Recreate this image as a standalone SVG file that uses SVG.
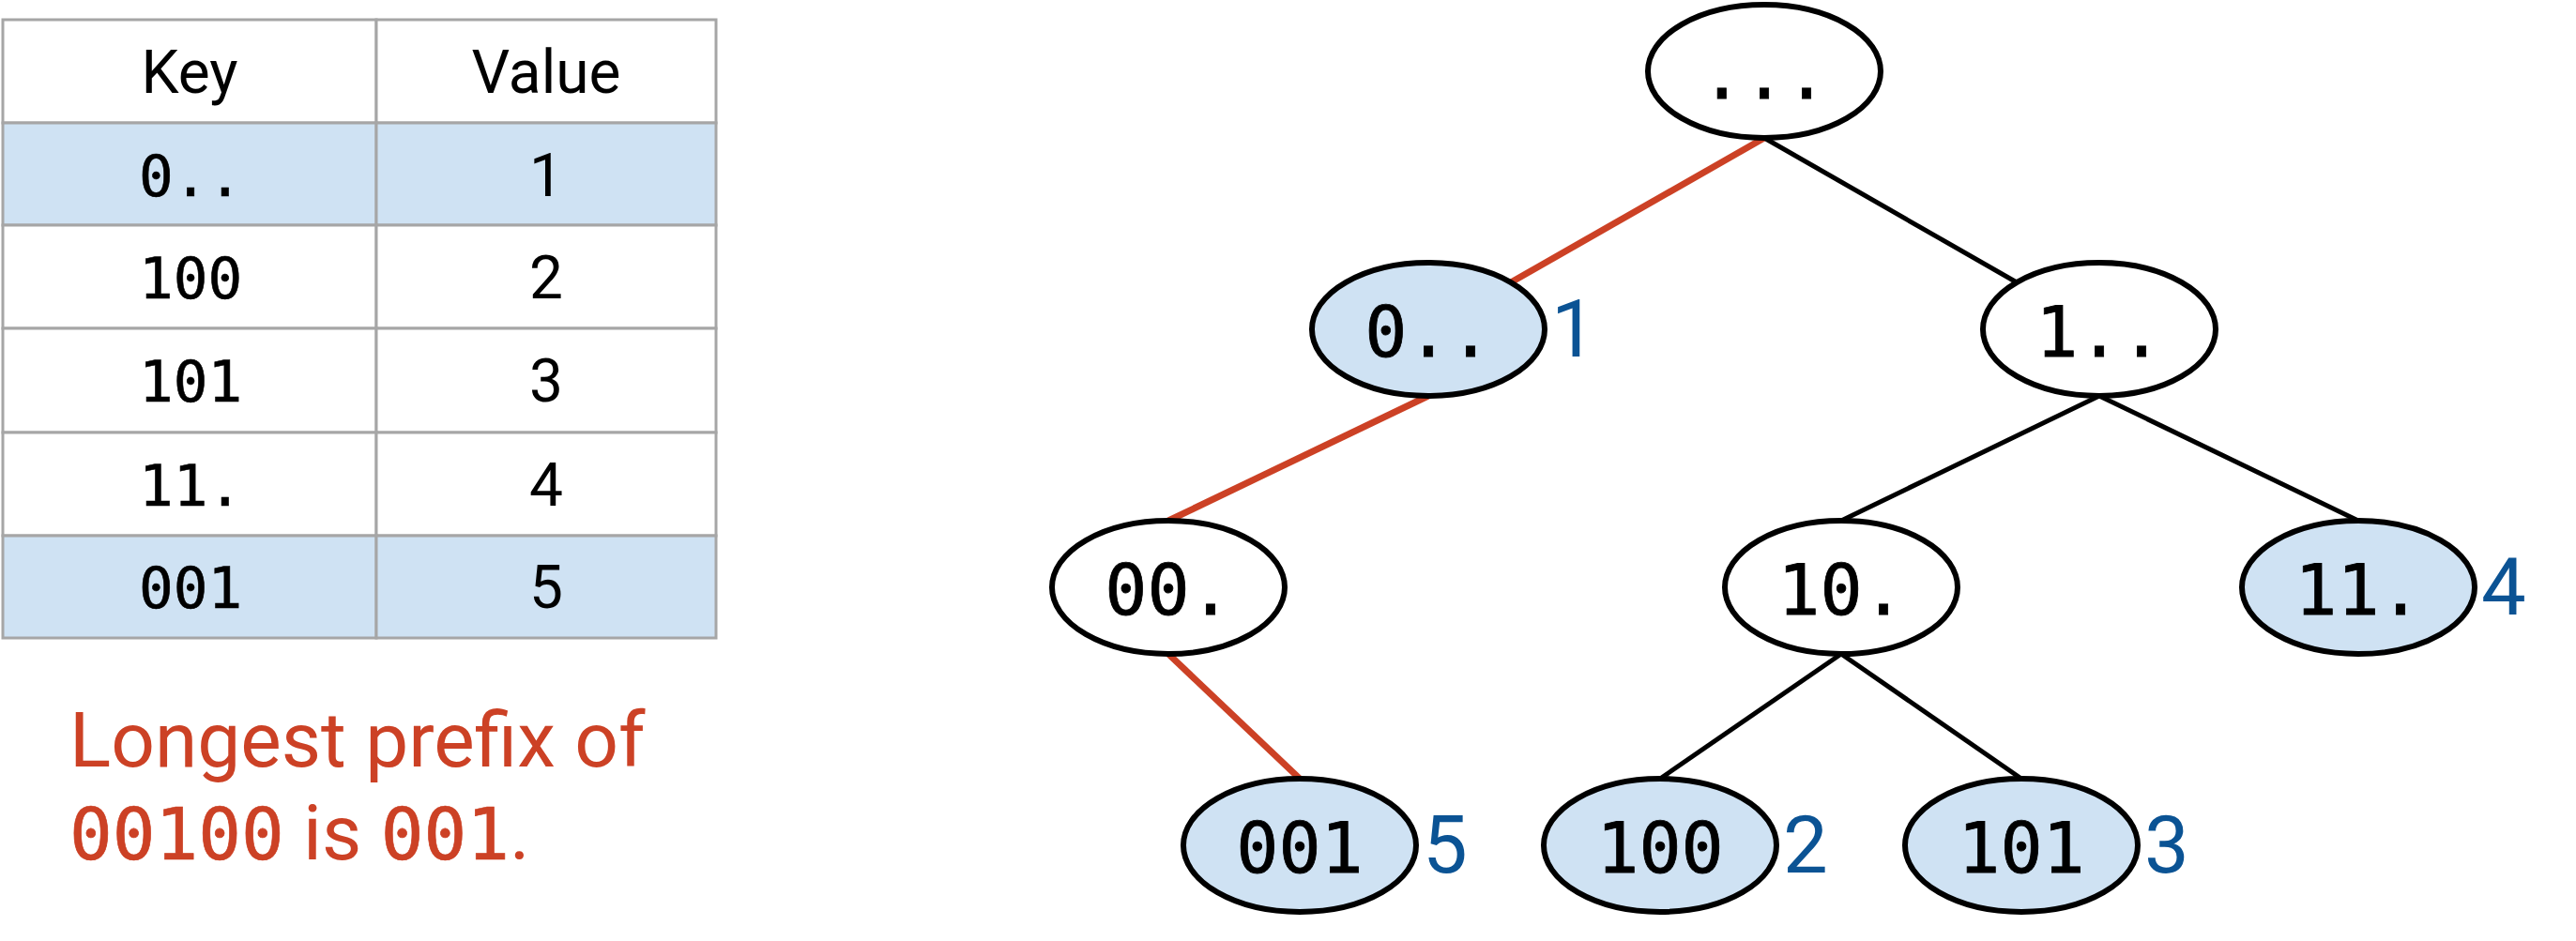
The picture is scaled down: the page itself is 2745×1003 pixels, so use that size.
<svg xmlns="http://www.w3.org/2000/svg" width="2745" height="1003" viewBox="0 0 2745 1003">
<style>
.cell{stroke:#a6a6a6;stroke-width:3}
.hl{fill:#cfe2f3}
.wh{fill:#ffffff}
.sans{font-family:Roboto,"Liberation Sans",sans-serif}
.mono{font-family:"DejaVu Sans Mono","Liberation Mono",monospace}
.th{font-size:64px;fill:#000;text-anchor:middle}
.tk{font-size:61px;fill:#000;stroke:#000;stroke-width:0.6}
.tv{font-size:64px;fill:#000;text-anchor:middle}
.node{stroke:#000;stroke-width:6}
.nl{font-size:75px;fill:#000;text-anchor:middle;stroke:#000;stroke-width:0.8}
.val{font-size:85px;fill:#0b5394}
.red{stroke:#cc4125;stroke-width:7}
.blk{stroke:#000;stroke-width:5}
.note{fill:#cc4125}
.mred{stroke:#cc4125;stroke-width:0.7}
</style>
<rect width="2745" height="1003" fill="#ffffff"/>
<g id="table">
<rect class="cell wh" x="3" y="21" width="398" height="110"/>
<rect class="cell wh" x="401" y="21" width="362" height="110"/>
<rect class="cell hl" x="3" y="131" width="398" height="109"/>
<rect class="cell hl" x="401" y="131" width="362" height="109"/>
<rect class="cell wh" x="3" y="240" width="398" height="110"/>
<rect class="cell wh" x="401" y="240" width="362" height="110"/>
<rect class="cell wh" x="3" y="350" width="398" height="111"/>
<rect class="cell wh" x="401" y="350" width="362" height="111"/>
<rect class="cell wh" x="3" y="461" width="398" height="110"/>
<rect class="cell wh" x="401" y="461" width="362" height="110"/>
<rect class="cell hl" x="3" y="571" width="398" height="109"/>
<rect class="cell hl" x="401" y="571" width="362" height="109"/>
<text class="sans th" x="202" y="99">Key</text>
<text class="sans th" x="582" y="99">Value</text>
<text class="mono tk" x="148" y="209">0..</text>
<text class="sans tv" x="582" y="209">1</text>
<text class="mono tk" x="148" y="318">100</text>
<text class="sans tv" x="582" y="318">2</text>
<text class="mono tk" x="148" y="428">101</text>
<text class="sans tv" x="582" y="428">3</text>
<text class="mono tk" x="148" y="539">11.</text>
<text class="sans tv" x="582" y="539">4</text>
<text class="mono tk" x="148" y="648">001</text>
<text class="sans tv" x="582" y="648">5</text>
</g>
<g id="note">
<text class="sans note" x="74" y="817" font-size="82">Longest prefix of</text>
<text class="note" x="74" y="916" font-size="82"><tspan class="mono mred" font-size="76">00100</tspan><tspan class="sans"> is </tspan><tspan class="mono mred" font-size="76">001</tspan><tspan class="sans">.</tspan></text>
</g>
<g id="connectors">
<line class="red" x1="1880" y1="147" x2="1610" y2="301"/>
<line class="blk" x1="1880" y1="147" x2="2149" y2="301"/>
<line class="red" x1="1522" y1="422" x2="1245" y2="555"/>
<line class="blk" x1="2237" y1="422" x2="1962" y2="555"/>
<line class="blk" x1="2237" y1="422" x2="2513" y2="555"/>
<line class="red" x1="1245" y1="697" x2="1385" y2="830"/>
<line class="blk" x1="1962" y1="697" x2="1769" y2="830"/>
<line class="blk" x1="1962" y1="697" x2="2154" y2="830"/>
</g>
<g id="n-root"><ellipse class="node wh" cx="1880" cy="76" rx="124" ry="71"/><text class="mono nl" x="1880" y="105">...</text></g>
<g id="n-0"><ellipse class="node hl" cx="1522" cy="351" rx="124" ry="71"/><text class="mono nl" x="1522" y="380">0..</text><text class="sans val" x="1653" y="380">1</text></g>
<g id="n-1"><ellipse class="node wh" cx="2237" cy="351" rx="124" ry="71"/><text class="mono nl" x="2237" y="380">1..</text></g>
<g id="n-00"><ellipse class="node wh" cx="1245" cy="626" rx="124" ry="71"/><text class="mono nl" x="1245" y="655">00.</text></g>
<g id="n-10"><ellipse class="node wh" cx="1962" cy="626" rx="124" ry="71"/><text class="mono nl" x="1962" y="655">10.</text></g>
<g id="n-11"><ellipse class="node hl" cx="2513" cy="626" rx="124" ry="71"/><text class="mono nl" x="2513" y="655">11.</text><text class="sans val" x="2644" y="655">4</text></g>
<g id="n-001"><ellipse class="node hl" cx="1385" cy="901" rx="124" ry="71"/><text class="mono nl" x="1385" y="930">001</text><text class="sans val" x="1516" y="930">5</text></g>
<g id="n-100"><ellipse class="node hl" cx="1769" cy="901" rx="124" ry="71"/><text class="mono nl" x="1769" y="930">100</text><text class="sans val" x="1900" y="930">2</text></g>
<g id="n-101"><ellipse class="node hl" cx="2154" cy="901" rx="124" ry="71"/><text class="mono nl" x="2154" y="930">101</text><text class="sans val" x="2285" y="930">3</text></g>
</svg>
